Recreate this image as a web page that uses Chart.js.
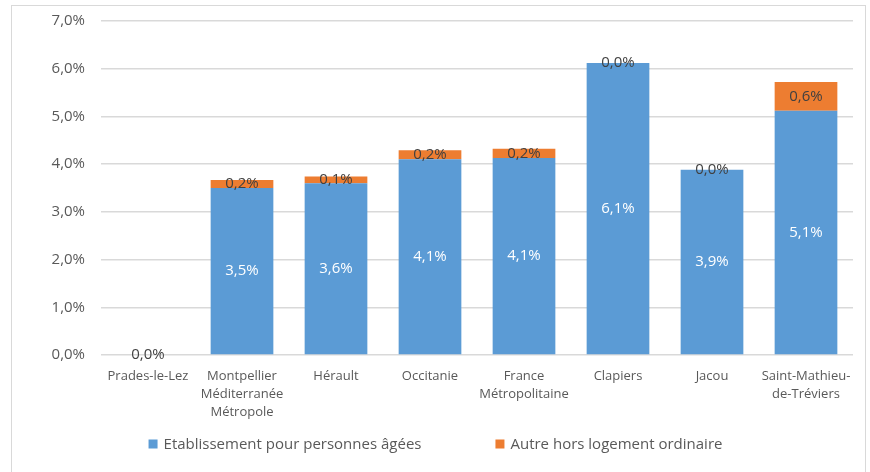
<!DOCTYPE html>
<html>
<head>
<meta charset="utf-8">
<script src="https://cdn.jsdelivr.net/npm/chart.js@4.4.0/dist/chart.umd.min.js"></script>
<style>
  body { margin: 0; background: #fff; }
  #frame { position: absolute; left: 11px; top: 5px; width: 853px; height: 480px; border: 1px solid #d9d9d9; }
  #wrap { position: relative; width: 853px; height: 466px; }
</style>
</head>
<body>
<div id="frame"><div id="wrap"><canvas id="myChart"></canvas></div></div>
<script>
const categories = ['Prades-le-Lez', ['Montpellier', 'Méditerranée', 'Métropole'], 'Hérault', 'Occitanie',
  ['France', 'Métropolitaine'], 'Clapiers', 'Jacou', ['Saint-Mathieu-', 'de-Tréviers']]
const etabValues = [0, 3.5, 3.6, 4.1, 4.13, 6.12, 3.88, 5.12]
const autreValues = [0, 0.17, 0.14, 0.19, 0.19, 0, 0, 0.6]
const seriesNames = ['Etablissement pour personnes âgées', 'Autre hors logement ordinaire']
const yTicks = [0, 1, 2, 3, 4, 5, 6, 7]

const blue = '#5B9BD5'
const orange = '#ED7D31'
const fmt = v => v.toFixed(1).replace('.', ',') + '%'

// etiquettes de valeurs au centre de chaque segment
const valueLabels = {
  id: 'valueLabels',
  afterDatasetsDraw(chart) {
    const c = chart.ctx
    c.save()
    c.font = '15px "Open Sans"'
    c.textAlign = 'center'
    c.textBaseline = 'middle'
    chart.data.datasets.forEach((ds, i) => {
      const meta = chart.getDatasetMeta(i)
      meta.data.forEach((bar, j) => {
        c.fillStyle = i === 0 ? '#ffffff' : '#404040'
        c.fillText(fmt(ds.data[j]), bar.x, (bar.y + bar.base) / 2)
      })
    })
    c.restore()
  }
}

// légende façon Excel
const bottomLegend = {
  id: 'bottomLegend',
  afterDraw(chart) {
    const c = chart.ctx
    c.save()
    c.font = '15px "Open Sans"'
    c.textBaseline = 'middle'
    const box = 9, gap = 6, spacing = 74
    const widths = chart.data.datasets.map(ds => box + gap + c.measureText(ds.label).width)
    const total = widths.reduce((a, b) => a + b, 0) + spacing * (widths.length - 1)
    let x = chart.width / 2 - total / 2 - 3
    const y = 438
    chart.data.datasets.forEach((ds, i) => {
      c.fillStyle = ds.backgroundColor
      c.fillRect(x, y - box / 2, box, box)
      c.fillStyle = '#595959'
      c.fillText(ds.label, x + box + gap, y + 1)
      x += widths[i] + spacing
    })
    c.restore()
  }
}

const ctx = document.getElementById('myChart').getContext('2d')
const myChart = new Chart(ctx, {
  type: 'bar',
  data: {
    labels: categories,
    datasets: [{
      label: seriesNames[0],
      data: etabValues,
      backgroundColor: blue,
      barPercentage: 1,
      categoryPercentage: 0.667
    }, {
      label: seriesNames[1],
      data: autreValues,
      backgroundColor: orange,
      barPercentage: 1,
      categoryPercentage: 0.667
    }]
  },
  options: {
    responsive: true,
    maintainAspectRatio: false,
    animation: false,
    layout: { padding: { top: 15, right: 12, bottom: 47, left: 0 } },
    plugins: {
      legend: { display: false },
      tooltip: { enabled: false }
    },
    scales: {
      x: {
        stacked: true,
        grid: { display: false },
        border: { display: false },
        ticks: { color: '#595959', font: { family: 'Open Sans', size: 13, lineHeight: 1.4 }, padding: 4, maxRotation: 0, autoSkip: false },
        afterFit: s => { s.height = 70 }
      },
      y: {
        stacked: true,
        min: 0,
        max: 7,
        afterBuildTicks: s => { s.ticks = yTicks.map(v => ({ value: v })) },
        grid: { color: '#d9d9d9', lineWidth: 1.5, drawTicks: false },
        border: { display: false },
        ticks: { color: '#595959', font: { family: 'Open Sans', size: 15 }, padding: 16, callback: v => fmt(v) },
        afterFit: s => { s.width = 89; s.paddingTop = 0; s.paddingBottom = 0 }
      }
    }
  },
  plugins: [valueLabels, bottomLegend]
})
</script>
</body>
</html>
